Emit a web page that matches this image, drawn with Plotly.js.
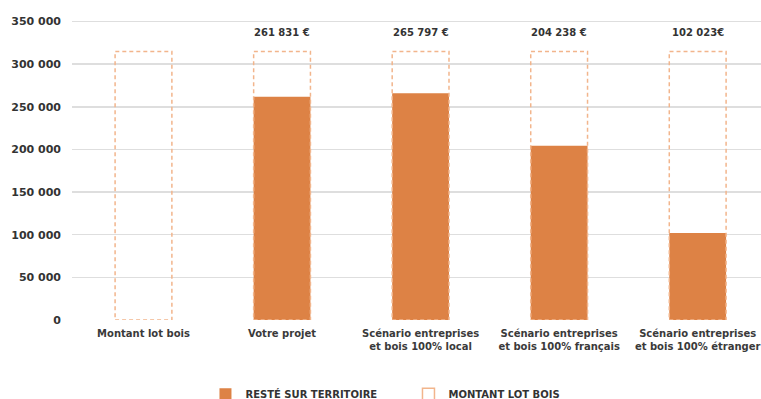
<!DOCTYPE html>
<html>
<head>
<meta charset="utf-8">
<script src="https://cdn.plot.ly/plotly-3.0.1.min.js"></script>
<style>html,body{margin:0;padding:0;background:#fff;}#chart{width:761px;height:399px;}</style>
</head>
<body>
<div id="chart"></div>
<script>
const categories = [
  "Montant lot bois",
  "Votre projet",
  "Scénario entreprises<br>et bois 100% local",
  "Scénario entreprises<br>et bois 100% français",
  "Scénario entreprises<br>et bois 100% étranger"
];
const resteSurTerritoire = [0, 261831, 265797, 204238, 102023];
const montantLotBois = [315000, 315000, 315000, 315000, 315000];
const valueLabels = ["", "261 831 €", "265 797 €", "204 238 €", "102 023€"];
const yTickVals = [0, 50000, 100000, 150000, 200000, 250000, 300000, 350000];

const idx = categories.map((c, i) => i);
const barColor = "#DD8245";
const dashColor = "#F2B58C";
const halfW = 0.205;
const font = "DejaVu Sans, sans-serif";

const traces = [
  {
    type: "bar",
    name: "RESTÉ SUR TERRITOIRE",
    x: idx,
    y: resteSurTerritoire,
    width: halfW * 2,
    marker: {color: barColor, line: {width: 0}},
    hoverinfo: "x+y"
  }
];

const shapes = idx.map(i => ({
  type: "rect",
  xref: "x", yref: "y",
  x0: i - halfW, x1: i + halfW,
  y0: 0, y1: montantLotBois[i],
  line: {color: dashColor, width: 1.5, dash: "4px,3px"},
  fillcolor: "rgba(0,0,0,0)",
  layer: "above",
  showlegend: i === 0,
  name: "MONTANT LOT BOIS"
}));

const annotations = idx.filter(i => valueLabels[i] !== "").map(i => ({
  x: i, y: montantLotBois[i], xref: "x", yref: "y",
  text: valueLabels[i], showarrow: false,
  yanchor: "bottom", yshift: 11,
  font: {family: font, size: 10, color: "#333333", weight: "bold"}
}));

const layout = {
  width: 761, height: 399,
  margin: {l: 72, r: 0, t: 13, b: 79},
  paper_bgcolor: "#ffffff",
  plot_bgcolor: "#ffffff",
  showlegend: true,
  barmode: "overlay",
  font: {family: font, color: "#333333"},
  xaxis: {
    range: [-0.516, 4.457],
    tickvals: idx,
    ticktext: categories,
    showgrid: false,
    zeroline: false,
    showline: false,
    ticks: "",
    ticklabelstandoff: 6,
    tickfont: {family: font, size: 10, color: "#3a3a3a", weight: "bold"}
  },
  yaxis: {
    range: [0, 360000],
    tickvals: yTickVals,
    tickformat: ",d",
    showgrid: true,
    gridcolor: "#dedede",
    gridwidth: 1.5,
    zeroline: false,
    showline: false,
    ticks: "",
    ticklabelstandoff: 10,
    tickfont: {family: font, size: 11, color: "#333333", weight: "bold"}
  },
  separators: ", ",
  legend: {
    orientation: "h",
    xref: "container", yref: "container",
    x: 0.27, xanchor: "left",
    y: 0.012, yanchor: "middle",
    entrywidth: 158, entrywidthmode: "pixels",
    font: {family: font, size: 10, color: "#333333", weight: "bold"},
    traceorder: "normal"
  },
  shapes: shapes,
  annotations: annotations
};

Plotly.newPlot("chart", traces, layout, {displayModeBar: false, staticPlot: true});
</script>
</body>
</html>
